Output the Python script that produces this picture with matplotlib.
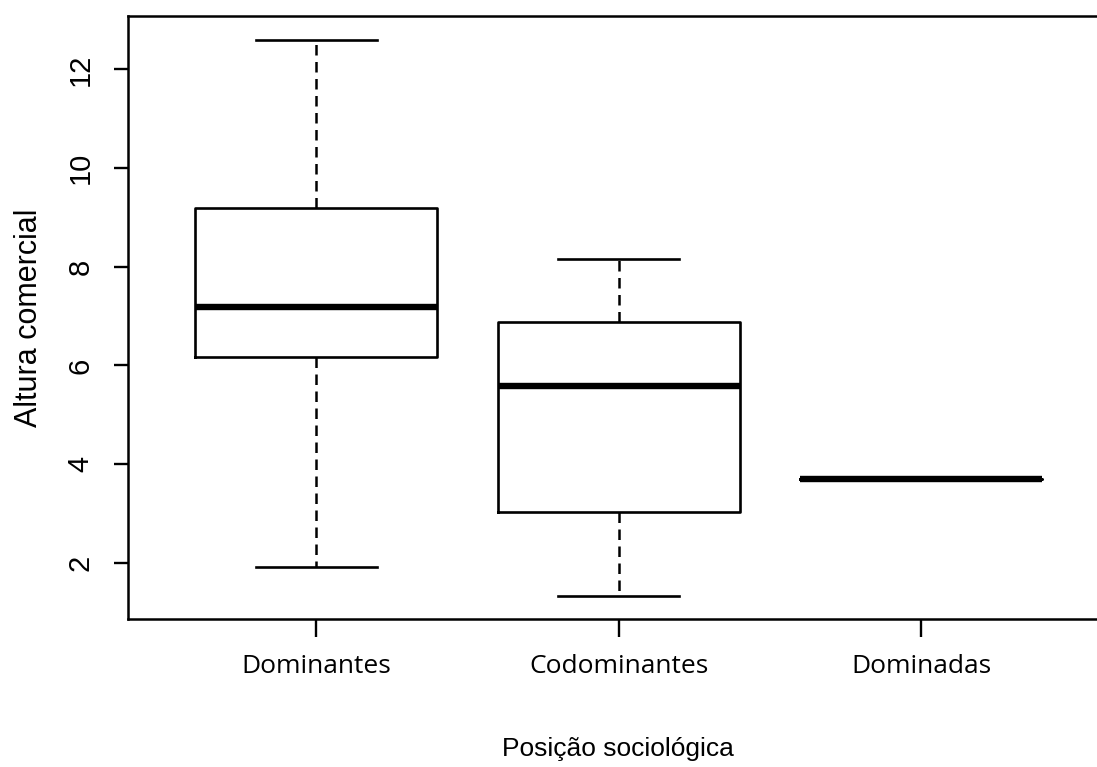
import matplotlib
matplotlib.use('Agg')
import matplotlib.pyplot as plt

# summary values per group (whisker low, Q1, median, Q3, whisker high)
groups = ['Dominantes', 'Codominantes', 'Dominadas']
whislo = [1.91, 1.33, 3.70]
q1 = [6.18, 3.03, 3.70]
med = [7.19, 5.58, 3.70]
q3 = [9.19, 6.88, 3.70]
whishi = [12.59, 8.15, 3.70]
yticks = [2, 4, 6, 8, 10, 12]

stats = []
for i, name in enumerate(groups):
    stats.append(dict(label=name, whislo=whislo[i], q1=q1[i], med=med[i],
                      q3=q3[i], whishi=whishi[i], fliers=[]))

fig = plt.figure(figsize=(10.97, 7.67), dpi=100)
ax = fig.add_axes([0.1167, 0.193, 0.8933, 0.786])

ax.bxp(stats, positions=[1, 2, 3], widths=0.8, capwidths=0.4,
       showfliers=False,
       boxprops=dict(color='black', linewidth=1.9),
       whiskerprops=dict(color='black', linewidth=1.8, linestyle=(0, (4.2, 2.6))),
       capprops=dict(color='black', linewidth=1.9),
       medianprops=dict(color='black', linewidth=4.6, solid_capstyle='butt'))

ax.set_xlim(0.3785, 3.618)
ax.set_ylim(0.86, 13.08)

for s in ax.spines.values():
    s.set_linewidth(1.8)

ax.set_yticks(yticks)
ax.set_yticklabels([str(v) for v in yticks], rotation=90, va='center',
                   family='Liberation Sans', fontsize=21)
ax.tick_params(axis='y', length=10, width=1.7, pad=14)

ax.set_xticks([1, 2, 3])
ax.set_xticklabels(groups, family='Open Sans', fontsize=19)
ax.tick_params(axis='x', length=13, width=1.7, pad=12)

ax.set_ylabel('Altura comercial', family='Liberation Sans', fontsize=22)
ax.yaxis.set_label_coords(-0.086, 0.5)

fig.text(617.5 / 1097, 1 - 749 / 767, 'Posição sociológica',
         family='Liberation Sans', fontsize=19,
         ha='center', va='center')

fig.savefig('out.png', dpi=100)
